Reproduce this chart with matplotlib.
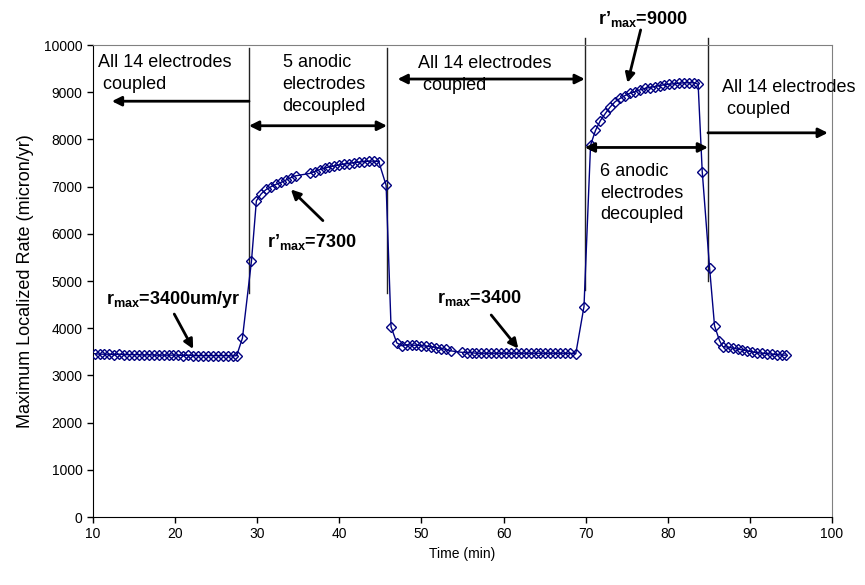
import matplotlib
matplotlib.use("Agg")
import matplotlib.pyplot as plt

plt.rcParams['font.family'] = ['Liberation Sans', 'DejaVu Sans']
plt.rcParams['mathtext.fontset'] = 'custom'
plt.rcParams['mathtext.rm'] = 'Liberation Sans'
plt.rcParams['mathtext.bf'] = 'Liberation Sans:bold'

# all 14 electrodes coupled
base1_t = [10.2, 10.8, 11.4, 12.0, 12.6, 13.2, 13.8, 14.4, 15.0, 15.6, 16.2, 16.8, 17.4, 18.0, 18.6,
           19.2, 19.8, 20.4, 21.0, 21.6, 22.2, 22.8, 23.4, 24.0, 24.6, 25.2, 25.8, 26.4, 27.0, 27.5]
base1_r = [3460, 3450, 3450, 3450, 3440, 3450, 3440, 3440, 3440, 3440, 3430, 3440, 3430, 3430, 3430,
           3430, 3430, 3430, 3420, 3430, 3420, 3420, 3420, 3420, 3420, 3420, 3420, 3420, 3410, 3420]

# 5 anodic electrodes decoupled
rise1_t = [28.2, 29.3]
rise1_r = [3790, 5420]
plat1_t = [29.9, 30.5, 31.1, 31.7, 32.3, 32.9, 33.5, 34.1, 34.7, 36.4, 37.0, 37.6, 38.2, 38.8,
           39.4, 40.0, 40.6, 41.2, 41.8, 42.4, 43.0, 43.6, 44.2, 44.8]
plat1_r = [6700, 6850, 6940, 7000, 7050, 7090, 7140, 7190, 7230, 7280, 7320, 7360, 7390, 7420,
           7440, 7460, 7480, 7490, 7510, 7520, 7530, 7540, 7540, 7530]
drop1_t = [45.7, 46.3]
drop1_r = [7030, 4030]

# all 14 electrodes coupled again
base2_t = [47.0, 47.6, 48.2, 48.8, 49.4, 50.0, 50.6, 51.2, 51.8, 52.4, 53.0, 53.6,
           54.9, 55.5, 56.1, 56.7, 57.3, 57.9, 58.5, 59.1, 59.7, 60.3, 60.9, 61.5,
           62.1, 62.7, 63.3, 63.9, 64.5, 65.1, 65.7, 66.3, 66.9, 67.5, 68.1, 68.8]
base2_r = [3690, 3630, 3650, 3640, 3640, 3630, 3620, 3610, 3590, 3570, 3550, 3520,
           3490, 3480, 3480, 3470, 3470, 3470, 3470, 3470, 3470, 3470, 3470, 3470,
           3470, 3470, 3470, 3470, 3470, 3470, 3470, 3470, 3470, 3470, 3470, 3460]

# 6 anodic electrodes decoupled
rise2_t = [69.8]
rise2_r = [4460]
plat2_t = [70.6, 71.2, 71.8, 72.4, 73.0, 73.6, 74.2, 74.8, 75.4, 76.0, 76.6, 77.2,
           77.8, 78.4, 79.0, 79.6, 80.2, 80.8, 81.4, 82.0, 82.6, 83.2, 83.7]
plat2_r = [7880, 8190, 8400, 8550, 8690, 8800, 8870, 8930, 8980, 9010, 9050, 9080,
           9100, 9120, 9140, 9160, 9170, 9180, 9190, 9200, 9200, 9200, 9170]
drop2_t = [84.2, 85.1, 85.7, 86.3]
drop2_r = [7320, 5270, 4050, 3740]

# recoupled
tail_t = [86.7, 87.3, 87.9, 88.5, 89.1, 89.7, 90.3, 90.9, 91.5, 92.1, 92.7, 93.3, 93.9, 94.4]
tail_r = [3610, 3600, 3580, 3560, 3540, 3520, 3500, 3480, 3470, 3460, 3450, 3440, 3430, 3430]

# switching times (min) and extent of the marker lines (micron/yr)
switch_t = [29.0, 45.8, 69.9, 84.9]
switch_lo = [4750, 4750, 4800, 5000]
switch_hi = [9930, 9930, 10150, 10150]

time_min = base1_t + rise1_t + plat1_t + drop1_t + base2_t + rise2_t + plat2_t + drop2_t + tail_t
rate = base1_r + rise1_r + plat1_r + drop1_r + base2_r + rise2_r + plat2_r + drop2_r + tail_r

fig = plt.figure(figsize=(8.65, 5.85), dpi=100)
ax = fig.add_axes([0.1075, 0.1162, 0.8543, 0.8068])

for t, lo, hi in zip(switch_t, switch_lo, switch_hi):
    ax.plot([t, t], [lo, hi], color='#222222', lw=1.0, clip_on=False, zorder=2)

ax.plot(time_min, rate, color='#000080', lw=1.0, marker='D', markersize=5.5,
        markerfacecolor='none', markeredgecolor='#000080', markeredgewidth=1.0, zorder=3)

ax.set_xlim(10, 100)
ax.set_ylim(0, 10000)
ax.set_xticks(range(10, 101, 10))
ax.set_yticks(range(0, 10001, 1000))
ax.tick_params(direction='out', length=4, width=1, labelsize=10, colors='black')
ax.set_xlabel("Time (min)", fontsize=10)
ax.set_ylabel("Maximum Localized Rate (micron/yr)", fontsize=13, labelpad=7)
for s in ['top', 'right']:
    ax.spines[s].set_color('#808080')

txt = dict(fontsize=13, color='black', va='top', ha='left', linespacing=1.35)
ax.text(10.6, 9800, "All 14 electrodes\n coupled", **txt)
ax.text(33.1, 9800, "5 anodic\nelectrodes\ndecoupled", **txt)
ax.text(49.6, 9780, "All 14 electrodes\n coupled", **txt)
ax.text(86.6, 9280, "All 14 electrodes\n coupled", **txt)
ax.text(71.8, 7500, "6 anodic\nelectrodes\ndecoupled", **txt)

bold = dict(fontsize=13, fontweight='bold', va='center', ha='left')
ax.text(11.6, 4600, r"$\mathbf{r_{max}}$=3400um/yr", **bold)
ax.text(51.9, 4650, r"$\mathbf{r_{max}}$=3400", **bold)
ax.text(31.2, 5830, r"$\mathbf{r’_{max}}$=7300", **bold)
ax.text(71.5, 10560, r"$\mathbf{r’_{max}}$=9000", clip_on=False, **bold)

def arrow(tail, head, style='-|>'):
    ax.annotate("", xy=head, xytext=tail, annotation_clip=False,
                arrowprops=dict(arrowstyle=style, color='black', lw=2,
                                mutation_scale=14, shrinkA=0, shrinkB=0))

arrow((29.0, 8810), (12.3, 8810))
arrow((29.0, 8290), (45.8, 8290), '<|-|>')
arrow((47.1, 9280), (69.9, 9280), '<|-|>')
arrow((84.9, 8140), (99.5, 8140))
arrow((69.9, 7830), (84.9, 7830), '<|-|>')
arrow((76.7, 10320), (75.1, 9200))
arrow((38.0, 6280), (34.1, 6940))
arrow((19.9, 4300), (22.2, 3560))
arrow((58.5, 4280), (61.8, 3570))

fig.savefig("out.png", dpi=100)
